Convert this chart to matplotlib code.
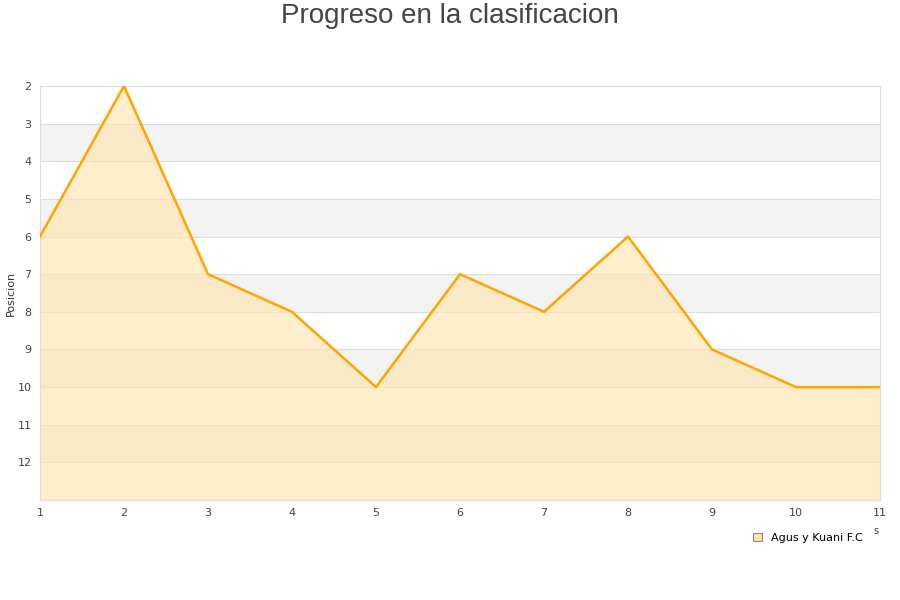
import matplotlib.pyplot as plt

jornadas = [1, 2, 3, 4, 5, 6, 7, 8, 9, 10, 11]
posicion = [6, 2, 7, 8, 10, 7, 8, 6, 9, 10, 10]
equipo = "Agus y Kuani F.C"

fig = plt.figure(figsize=(9, 6), dpi=100)
ax = fig.add_axes([40 / 900, 1 - 500 / 600, 840 / 900, 414 / 600])

# bandas alternas
for y0 in range(3, 13, 2):
    ax.axhspan(y0, y0 + 1, color='#f3f3f3', zorder=0, lw=0)
for y0 in range(2, 14):
    ax.axhline(y0, color='#dddddd', lw=0.8, zorder=1)

ax.fill_between(jornadas, posicion, 13, color='#ffe4b0', alpha=0.65, lw=0, zorder=2)
ax.plot(jornadas, posicion, color='#ffa500', lw=1.8, zorder=3)

ax.set_xlim(1, 11)
ax.set_ylim(13, 2)
ax.set_xticks(jornadas)
ax.set_yticks(range(2, 13))
ax.tick_params(length=0, labelsize=8, colors='#444444')
ax.tick_params(axis='x', pad=6)
ax.tick_params(axis='y', pad=6)
for s in ax.spines.values():
    s.set_color('#dddddd')

fig.text(11 / 900, 1 - 293 / 600, 'Posicion', rotation=90, ha='center', va='center',
         fontsize=8, color='#333333')
fig.text(450 / 900, 1 - 16 / 600, 'Progreso en la clasificacion', ha='center', va='center',
         fontsize=20, color='#444444', family='Liberation Sans')
fig.text(876 / 900, 1 - 531 / 600, 's', ha='center', va='center', fontsize=7, color='#444444')

leg = ax.legend([plt.Rectangle((0, 0), 1, 1, fc='#ffe4b0', ec='#888888', lw=0.8)], [equipo],
                loc='center', bbox_to_anchor=(808 / 900, 1 - 538 / 600), bbox_transform=fig.transFigure,
                frameon=False, fontsize=8, handlelength=0.8, handleheight=0.8, handletextpad=0.8)

fig.savefig('out.png', dpi=100)
